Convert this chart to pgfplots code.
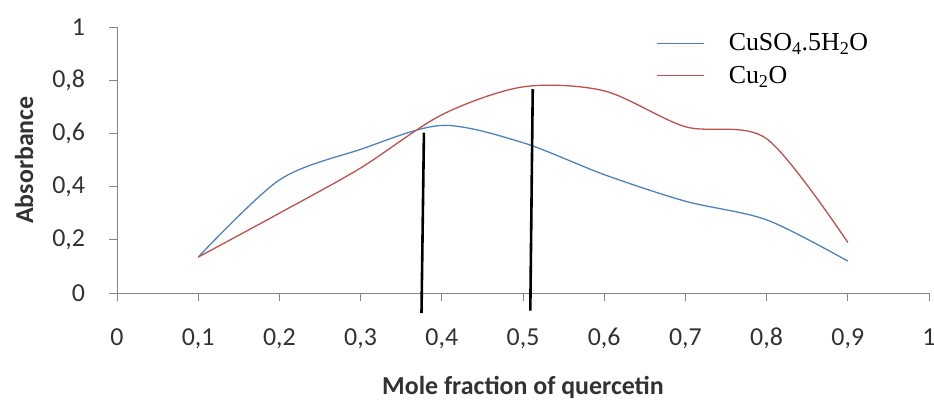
\documentclass[border=0pt]{standalone}
\usepackage{pgfplots}
\pgfplotsset{compat=1.18}
\usepackage{fontspec}
\setmainfont{Carlito}
\newfontfamily\tnr{Liberation Serif}
\definecolor{xlblue}{RGB}{79,129,189}
\definecolor{xlred}{RGB}{192,80,77}
\definecolor{axgray}{RGB}{134,134,134}
\definecolor{txt}{RGB}{50,50,50}
\begin{document}
\begin{tikzpicture}
\useasboundingbox (-117bp,-107bp) rectangle (817bp,293bp);
\begin{axis}[
  at={(0,0)}, anchor=south west,
  scale only axis, width=812bp, height=266bp,
  xmin=0, xmax=1, ymin=0, ymax=1,
  clip=false,
  axis x line=bottom, axis y line=left,
  axis line style={draw=axgray, line width=0.9bp, -},
  tick align=outside, major tick length=8bp,
  tick style={draw=axgray, line width=0.9bp},
  xtick={0,0.1,0.2,0.3,0.4,0.5,0.6,0.7,0.8,0.9,1},
  ytick={0,0.2,0.4,0.6,0.8,1},
  /pgf/number format/assume math mode=true,
  /pgf/number format/use comma,
  ticklabel style={font=\fontsize{26}{28}\selectfont, text=txt, inner sep=0pt, outer sep=0pt},
  xticklabel style={anchor=base, yshift=-44.5bp},
  yticklabel style={anchor=east, xshift=-24bp},
  xlabel={\textbf{Mole fraction of quercetin}},
  ylabel={\textbf{Absorbance}},
  xlabel style={at={(axis description cs:0.5,-0.382)}, anchor=base, font=\fontsize{26}{28}\selectfont, text=txt, inner sep=0pt},
  ylabel style={at={(axis description cs:-0.1034,0.5)}, anchor=base, font=\fontsize{26}{28}\selectfont, text=txt, inner sep=0pt},
  legend style={draw=none, fill=none, at={(axis description cs:0.66,0.99)}, anchor=north west,
    font=\tnr\fontsize{26}{30}\selectfont, row sep=10bp},
  legend cell align=left,
  legend image code/.code={\draw[#1] (0bp,0bp) -- (47bp,0bp); \path[draw=none] (0bp,0bp) -- (70bp,0bp);},
]
\addplot[xlblue, line width=1.3bp, smooth, tension=0.5] coordinates {
 (0.1,0.135) (0.2,0.425) (0.3,0.54) (0.4,0.63) (0.5,0.565) (0.6,0.445) (0.7,0.345) (0.8,0.275) (0.9,0.12)};
\addlegendentry{CuSO\textsubscript{4}.5H\textsubscript{2}O}
\addplot[xlred, line width=1.3bp, smooth, tension=0.5] coordinates {
 (0.1,0.135) (0.2,0.30) (0.3,0.47) (0.4,0.67) (0.5,0.775) (0.6,0.76) (0.7,0.625) (0.8,0.58) (0.9,0.19)};
\addlegendentry{Cu\textsubscript{2}O}
\addplot[black, line width=2.6bp, forget plot] coordinates {(0.375,-0.076) (0.378,0.603)};
\addplot[black, line width=2.6bp, forget plot] coordinates {(0.509,-0.066) (0.512,0.766)};
\end{axis}
\end{tikzpicture}
\end{document}
